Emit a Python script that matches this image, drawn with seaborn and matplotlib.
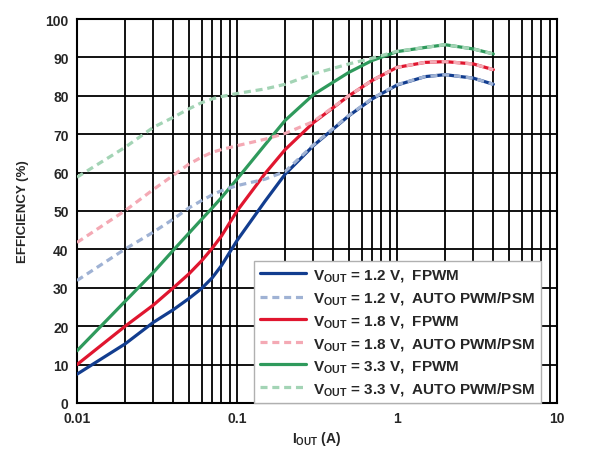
import matplotlib
matplotlib.use("Agg")
import matplotlib.pyplot as plt
import seaborn as sns
import numpy as np
import pandas as pd
from matplotlib.ticker import LogLocator, FixedLocator, NullFormatter

# Data
iout = [0.01, 0.02, 0.03, 0.04, 0.05, 0.06, 0.07, 0.08, 0.1, 0.15, 0.2, 0.3, 0.5, 0.7, 1, 1.5, 2, 3, 4]
eff_12_fpwm = [7.5, 15.4, 21, 24.3, 27.2, 29.8, 32.6, 35.8, 42.3, 52.6, 59.6, 67, 74.8, 79.2, 82.8, 85, 85.5, 84.6, 83]
eff_12_auto = [31.9, 40.1, 44.5, 47.9, 50.8, 52.7, 54.2, 55.3, 56.6, 58.3, 60.3, 67.2, 74.9, 79.3, 82.9, 85, 85.5, 84.6, 83]
eff_18_fpwm = [10, 20, 25.5, 30, 33.6, 37, 40.3, 43.5, 50, 59.8, 66, 73, 80, 84, 87.4, 88.7, 88.9, 88.3, 86.8]
eff_18_auto = [41.8, 50.1, 55.6, 59.3, 62.2, 64, 65.3, 66, 67, 68.7, 70.2, 73.3, 80, 84, 87.4, 88.7, 88.9, 88.3, 86.8]
eff_33_fpwm = [13.6, 26.5, 34, 39.8, 44.2, 47.8, 50.8, 53.5, 58.3, 67.3, 73.6, 80.3, 86.1, 89.2, 91.5, 92.6, 93.3, 92.2, 90.9]
eff_33_auto = [58.8, 66.6, 71.8, 74.4, 76.6, 78.2, 79.2, 79.8, 80.6, 81.8, 83, 85.7, 88.3, 89.8, 91.6, 92.6, 93.3, 92.2, 90.9]

labels = [
    r"V$_{\mathregular{OUT}}$ = 1.2 V,  FPWM",
    r"V$_{\mathregular{OUT}}$ = 1.2 V,  AUTO PWM/PSM",
    r"V$_{\mathregular{OUT}}$ = 1.8 V,  FPWM",
    r"V$_{\mathregular{OUT}}$ = 1.8 V,  AUTO PWM/PSM",
    r"V$_{\mathregular{OUT}}$ = 3.3 V,  FPWM",
    r"V$_{\mathregular{OUT}}$ = 3.3 V,  AUTO PWM/PSM",
]
series = [eff_12_fpwm, eff_12_auto, eff_18_fpwm, eff_18_auto, eff_33_fpwm, eff_33_auto]
colors = ["#123d8f", "#9fb2d4", "#e0162f", "#f4a9b4", "#2f9a5c", "#a3d4b5"]
dashed = [False, True, False, True, False, True]

sns.set_style("white")
plt.rcParams["font.family"] = ["Liberation Sans", "DejaVu Sans"]
plt.rcParams["mathtext.default"] = "regular"

fig = plt.figure(figsize=(5.9, 4.52), dpi=100)
ax = fig.add_axes([77/590, 1-404/452, (557-77)/590, (404-20)/452])

ax.set_xscale("log")
ax.set_xlim(0.01, 10)
ax.set_ylim(0, 100)

# grid
ax.xaxis.set_major_locator(LogLocator(base=10, numticks=10))
ax.xaxis.set_minor_locator(LogLocator(base=10, subs=np.arange(2, 10), numticks=100))
ax.xaxis.set_minor_formatter(NullFormatter())
ax.yaxis.set_major_locator(FixedLocator(np.arange(0, 101, 10)))
ax.grid(True, which="both", axis="x", color="black", linewidth=1.3)
ax.grid(True, which="major", axis="y", color="black", linewidth=1.3)
ax.set_axisbelow(True)

for order in [0, 2, 4, 1, 3, 5]:
    df = pd.DataFrame({"x": iout, "y": series[order]})
    ls = (0, (2.2, 1.5)) if dashed[order] else "-"
    sns.lineplot(data=df, x="x", y="y", ax=ax, color=colors[order],
                 linewidth=2.3, label=labels[order], linestyle=ls, zorder=3)

ax.set_xticks([0.01, 0.1, 1, 10])
ax.set_xticklabels(["0.01", "0.1", "1", "10"])
ax.tick_params(axis="both", which="both", length=0, labelsize=10, pad=6)
for t in ax.get_xticklabels() + ax.get_yticklabels():
    t.set_fontweight("bold")

for s in ax.spines.values():
    s.set_color("black")
    s.set_linewidth(1.5)

ax.set_xlabel(r"I$_{\mathregular{OUT}}$ (A)", fontsize=10, fontweight="bold", labelpad=3)
ax.set_ylabel("EFFICIENCY (%)", fontsize=9.5, fontweight="bold", labelpad=12)

handles, labs = ax.get_legend_handles_labels()
idx = [labs.index(l) for l in labels]
leg = ax.legend([handles[i] for i in idx], [labs[i] for i in idx],
                loc="lower right", bbox_to_anchor=(0.967, 0.0), frameon=True,
                fancybox=False, edgecolor="#b0b0b0", framealpha=1,
                prop={"weight": "bold", "size": 11}, handlelength=3.0,
                labelspacing=0.40, borderpad=0.4, handletextpad=0.5,
                borderaxespad=0.0)
leg.get_frame().set_linewidth(1.0)
leg.set_zorder(10)

fig.savefig("out.png", dpi=100)
